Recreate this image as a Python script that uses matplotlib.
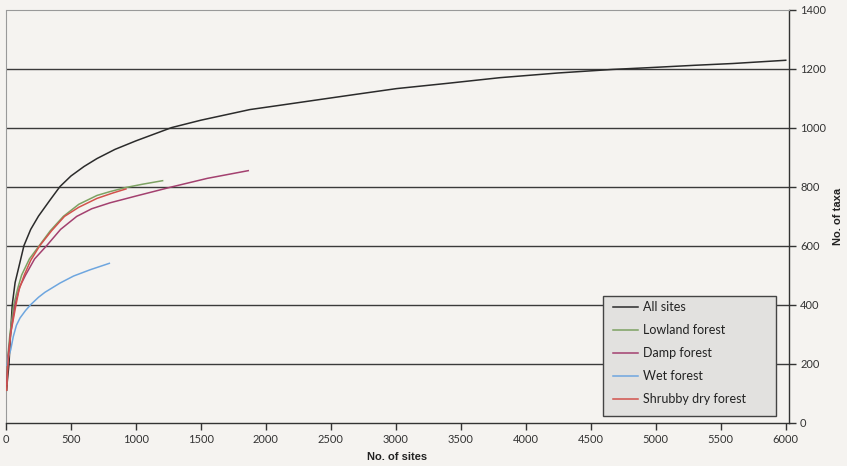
import matplotlib.pyplot as plt
from matplotlib.patches import Rectangle

# species accumulation: number of taxa recorded vs number of sites sampled
all_x = [5, 10, 23, 35, 48, 70, 100, 138, 190, 250, 338, 415, 500, 600, 700, 838,
         1000, 1275, 1500, 1877, 2100, 2415, 2700, 3005, 3400, 3800, 4250, 4669,
         4950, 5300, 5592, 6000]
all_y = [110, 140, 200, 300, 400, 475, 530, 600, 655, 700, 754, 800, 836, 868, 895, 926,
         955, 1000, 1025, 1061, 1075, 1095, 1113, 1132, 1150, 1169, 1185, 1197,
         1203, 1211, 1217, 1228]

lowland_x = [5, 15, 30, 60, 90, 120, 180, 256, 340, 441, 560, 700, 800, 923, 1050, 1205]
lowland_y = [130, 230, 300, 400, 455, 500, 555, 600, 650, 699, 740, 770, 783, 797, 808, 820]

damp_x = [5, 15, 35, 70, 105, 150, 220, 313, 420, 544, 660, 800, 1000, 1285, 1550, 1864]
damp_y = [130, 220, 300, 400, 460, 500, 555, 600, 655, 699, 725, 745, 768, 800, 828, 854]

wet_x = [8, 20, 36, 56, 80, 108, 150, 190, 250, 300, 415, 520, 646, 795]
wet_y = [195, 225, 247, 292, 330, 355, 380, 400, 425, 442, 473, 497, 518, 540]

shrubby_x = [5, 15, 35, 77, 100, 140, 190, 260, 350, 450, 560, 700, 820, 923]
shrubby_y = [110, 200, 300, 400, 450, 500, 550, 600, 650, 699, 730, 760, 778, 792]

bg = '#f5f3f0'
W, H = 847, 466
fig = plt.figure(figsize=(W / 100, H / 100), dpi=100, facecolor=bg)
ax = fig.add_axes([0.0071, 0.0929, 0.9244, 0.8867], facecolor=bg)

# horizontal gridlines
for g in [200, 400, 600, 800, 1000, 1200]:
    ax.axhline(g, color='#3a3a3a', lw=1.0, zorder=1)

ax.plot(all_x, all_y, color='#2b2b2b', lw=1.1, label='All sites', zorder=3)
ax.plot(lowland_x, lowland_y, color='#7da263', lw=1.1, label='Lowland forest', zorder=3)
ax.plot(damp_x, damp_y, color='#a3406f', lw=1.1, label='Damp forest', zorder=3)
ax.plot(wet_x, wet_y, color='#6ea6df', lw=1.1, label='Wet forest', zorder=3)
ax.plot(shrubby_x, shrubby_y, color='#d2524c', lw=1.1, label='Shrubby dry forest', zorder=3)

ax.set_xlim(0, 6025)
ax.set_ylim(0, 1400)
ax.set_xticks(range(0, 6001, 500))
ax.set_yticks(range(0, 1401, 200))

ax.yaxis.tick_right()
ax.yaxis.set_label_position('right')

for s in ['top', 'left']:
    ax.spines[s].set_color('#999999')
    ax.spines[s].set_linestyle((0, (1, 1)))
    ax.spines[s].set_linewidth(0.8)
for s in ['bottom', 'right']:
    ax.spines[s].set_color('#333333')
    ax.spines[s].set_linewidth(1.0)

ax.tick_params(axis='both', direction='out', length=5, width=1, color='#333333',
               labelsize=8, labelcolor='#333333', pad=3)
for lab in ax.get_xticklabels() + ax.get_yticklabels():
    lab.set_family('Lato')

ax.set_xlabel('No. of sites', fontsize=8, fontweight='bold', family='Liberation Sans',
              color='#222222', labelpad=5)
ax.set_ylabel('No. of taxa', fontsize=8, fontweight='bold', family='Liberation Sans',
              color='#222222', labelpad=5)

# legend box as a patch in figure coordinates, entries placed inside it
box = Rectangle((603 / W, 1 - 416 / H), 173 / W, 120 / H, transform=fig.transFigure,
                facecolor='#e2e1df', edgecolor='#444444', lw=1.0, zorder=4, clip_on=False)
ax.add_patch(box)
leg = ax.legend(loc='upper left', bbox_to_anchor=(613 / W, 1 - 301 / H),
                bbox_transform=fig.transFigure, borderaxespad=0, borderpad=0,
                frameon=False, prop={'family': 'Lato', 'size': 9},
                handlelength=2.0, handletextpad=0.4, labelspacing=0.88)
leg.set_zorder(5)
for t in leg.get_texts():
    t.set_color('#222222')

fig.savefig('out.png', dpi=100, facecolor=bg)
